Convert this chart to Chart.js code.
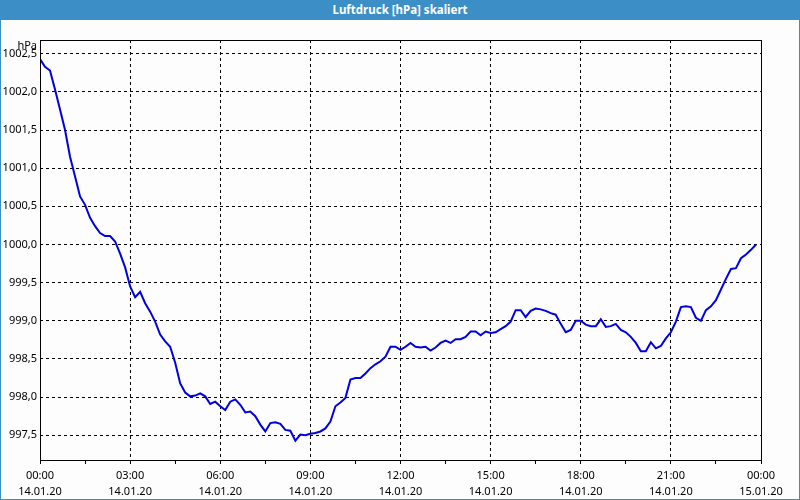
<!DOCTYPE html>
<html>
<head>
<meta charset="utf-8">
<script src="https://cdn.jsdelivr.net/npm/chart.js@4"></script>
<style>
  html, body { margin: 0; padding: 0; background: #fcfdfc; }
  #frame { position: absolute; left: 0; top: 0; width: 798px; height: 499px;
           border: 1px solid #3c8fc6; border-top: none; background: #fcfdfc; }
  #head { height: 20px; background: #3c8fc6; color: #fff; font: bold 11.5px "Noto Sans", sans-serif;
          text-align: center; line-height: 20px; margin: 0 -1px; }
  #box { position: relative; width: 798px; height: 479px; }
</style>
</head>
<body>
<div id="frame">
  <div id="head">Luftdruck [hPa] skaliert</div>
  <div id="box"><canvas id="myChart"></canvas></div>
</div>
<script>
// messwerte alle 10 minuten ab 14.01.20 00:00
var stepMinutes = 10;
var pressure = [
  1002.43, 1002.33, 1002.28, 1002.03, 1001.77, 1001.50, 1001.15, 1000.89, 1000.63, 1000.52,
  1000.35, 1000.24, 1000.15, 1000.11, 1000.11, 1000.04, 999.88, 999.70, 999.45, 999.31,
  999.38, 999.23, 999.12, 998.99, 998.82, 998.73, 998.66, 998.45, 998.18, 998.06,
  998.01, 998.02, 998.05, 998.01, 997.91, 997.94, 997.88, 997.83, 997.94, 997.97,
  997.90, 997.80, 997.81, 997.75, 997.64, 997.55, 997.66, 997.67, 997.65, 997.57,
  997.56, 997.43, 997.51, 997.50, 997.52, 997.53, 997.55, 997.59, 997.68, 997.88,
  997.93, 997.99, 998.23, 998.25, 998.25, 998.31, 998.38, 998.43, 998.47, 998.53,
  998.66, 998.66, 998.62, 998.66, 998.71, 998.66, 998.65, 998.66, 998.61, 998.65,
  998.71, 998.74, 998.71, 998.76, 998.76, 998.79, 998.86, 998.86, 998.81, 998.86,
  998.84, 998.85, 998.89, 998.93, 998.99, 999.14, 999.14, 999.05, 999.13, 999.16,
  999.15, 999.13, 999.10, 999.08, 998.96, 998.85, 998.88, 999.00, 999.00, 998.95,
  998.93, 998.93, 999.02, 998.92, 998.93, 998.96, 998.88, 998.85, 998.79, 998.71,
  998.60, 998.60, 998.72, 998.64, 998.67, 998.77, 998.85, 998.99, 999.18, 999.19,
  999.18, 999.04, 999.00, 999.14, 999.19, 999.27, 999.41, 999.55, 999.68, 999.69,
  999.82, 999.87, 999.93, 1000.00
];
var days = ['14.01.20', '15.01.20'];
var yMin = 997.176, yMax = 1002.68;

var points = pressure.map(function (v, i) { return { x: i * stepMinutes, y: v }; });

function pad(n) { return (n < 10 ? '0' : '') + n; }

var frameBox = {
  id: 'frameBox',
  afterDraw: function (chart) {
    var c = chart.ctx, a = chart.chartArea;
    c.save();
    c.setLineDash([]);
    c.strokeStyle = '#000';
    c.lineWidth = 1;
    c.strokeRect(Math.round(a.left) + 0.5, Math.round(a.top) + 0.5,
                 Math.round(a.right - a.left), Math.round(a.bottom - a.top));
    c.fillStyle = '#000';
    c.font = '11px "Noto Sans", sans-serif';
    c.textAlign = 'right';
    c.textBaseline = 'top';
    c.fillText('hPa', a.left - 3, a.top);
    c.restore();
  }
};

Chart.defaults.font.family = '"Noto Sans", sans-serif';
Chart.defaults.font.size = 11;
Chart.defaults.color = '#000';

var ctx = document.getElementById('myChart').getContext('2d');
var myChart = new Chart(ctx, {
    type: 'line',
    data: {
        datasets: [{
            label: 'Luftdruck',
            data: points,
            borderColor: '#0000e0',
            borderWidth: 2,
            pointRadius: 0,
            tension: 0
        }]
    },
    plugins: [frameBox],
    options: {
        responsive: true,
        maintainAspectRatio: false,
        animation: false,
        layout: { padding: { top: 20, right: 38, left: 0, bottom: 0 } },
        plugins: { legend: { display: false }, tooltip: { enabled: false } },
        scales: {
            x: {
                type: 'linear',
                min: 0,
                max: 1440,
                afterFit: function (s) { s.height = 39; },
                border: { display: false, dash: [3, 3] },
                grid: {
                    color: function (c) { return c.tick && c.tick.value % 180 === 0 ? '#000' : 'rgba(0,0,0,0)'; },
                    tickColor: '#000',
                    tickBorderDash: [],
                    tickLength: 4
                },
                ticks: {
                    stepSize: 90,
                    autoSkip: false,
                    maxRotation: 0,
                    padding: 4,
                    font: { lineHeight: 1.45 },
                    callback: function (v) {
                        if (v % 180 !== 0) return '';
                        var day = Math.floor(v / 1440);
                        var m = v % 1440;
                        return [pad(Math.floor(m / 60)) + ':' + pad(m % 60), days[day]];
                    }
                }
            },
            y: {
                min: yMin,
                max: yMax,
                afterFit: function (s) { s.width = 39; },
                border: { display: false, dash: [3, 3] },
                grid: {
                    color: '#000',
                    drawTicks: false
                },
                ticks: {
                    stepSize: 0.5,
                    includeBounds: false,
                    padding: 3,
                    callback: function (v) { return v.toFixed(1).replace('.', ','); }
                }
            }
        }
    }
});
</script>
</body>
</html>
